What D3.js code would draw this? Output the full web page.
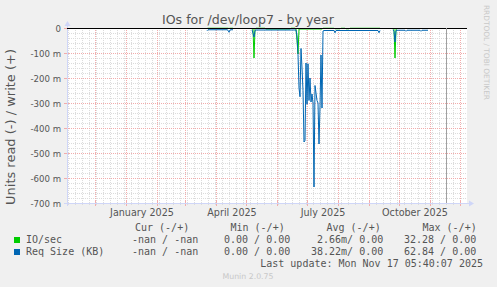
<!DOCTYPE html>
<html><head><meta charset="utf-8">
<script src="https://cdn.jsdelivr.net/npm/d3@7"></script>
<style>body{margin:0;background:#f0f0f0;overflow:hidden} svg{display:block}</style>
</head><body><svg id="c" width="497" height="287"></svg>
<script>
// ---------- data ----------
const chartTitle = "IOs for /dev/loop7 - by year";
const yAxisTitle = "Units read (-) / write (+)";
const yTickValues = [0, -100, -200, -300, -400, -500, -600, -700]; // milli-units
const yTickLabels = ["0", "-100 m", "-200 m", "-300 m", "-400 m", "-500 m", "-600 m", "-700 m"];
const xLabelMonths = ["2025-01-01", "2025-04-01", "2025-07-01", "2025-10-01"];
const xLabelTexts = ["January 2025", "April 2025", "July 2025", "October 2025"];
const xDomain = ["2024-11-03", "2025-12-08"];
const lastUpdateTime = "2025-11-17T05:40:07Z";

const seriesNames = ["IO/sec", "Req Size (KB)"];
const seriesColors = ["#00cc00", "#0066b3"];

// daily read values (milli-units, plotted as negative), one entry per day from the segment start
const segmentStarts = ["2025-03-23", "2025-05-07", "2025-09-25"];
const ioSeg1 = [2,1,1,1,1,1,1,1,1,1,1,1,1,1,1,1,1,1,1,1,1,1,2,1,1,1,1];
const reqSeg1 = [11,7,7,7,7,7,7,7,7,7,7,7,7,7,7,7,7,7,7,7,7,9,17,8,7,7,7];
const ioSeg2 = [
  2,4,120,5,1,1,1,1,1,1,1,1,1,1,4,4,4,4,4,4,4,4,4,4,4,4,4,4,4,4,4,4,4,4,4,4,4,4,4,1,1,1,1,1,4,
  50,104,4,4,4,4,4,4,4,4,4,4,4,4,4,4,4,4,4,4,4,4,4,4,4,4,
  1,1,1,1,1,1,1,1,1,1,1,1,3,3,3,3,3,3,1,1,1,1,1,3,3,3,3,1,1,1,1,1,1,1,1,1,1,1,1,1,1,1,1,1,1,1,1,1,1,1,1,1,1,1,1,1,1,1
];
const reqSeg2 = [
  7,22,36,10,8,8,8,8,8,8,8,8,8,8,8,8,8,8,8,8,8,8,8,8,8,8,8,8,8,8,8,8,8,8,8,8,8,8,8,8,8,8,8,8,8,
  30,105,240,275,82,160,250,456,450,140,305,143,290,200,296,264,300,636,230,260,290,300,464,316,108,320,
  12,10,10,10,10,10,10,10,10,10,10,10,19,10,10,10,10,10,10,10,10,10,10,10,10,10,10,10,10,10,10,10,10,10,10,10,10,10,10,10,10,10,10,10,10,10,10,10,10,10,10,10,10,10,10,10,19,10
];
const ioSeg3 = [2,5,120,5,2,2,2,2,2,2,2,2,2,2,2,2,2,2,2,2,2,2,2,2,2,2,2,2,2,2,2,2,2,2,2,2];
const reqSeg3 = [7,14,56,10,9,9,9,9,9,9,9,9,9,13,9,9,9,9,9,9,9,9,9,9,9,9,9,9,13,9,9,9,9,9,9,9];

const legendHeader = ["Cur (-/+)", "Min (-/+)", "Avg (-/+)", "Max (-/+)"];
const legendIo = ["-nan / -nan", "0.00 / 0.00", "2.66m/ 0.00", "32.28 / 0.00"];
const legendReq = ["-nan / -nan", "0.00 / 0.00", "38.22m/ 0.00", "62.84 / 0.00"];
const lastUpdateText = "Last update: Mon Nov 17 05:40:07 2025";
const footerText = "Munin 2.0.75";
const sideText = "RRDTOOL / TOBI OETIKER";

// ---------- drawing ----------
const W = 497, H = 287;
const L = 67, R = 467, T = 28, B = 203;
const svg = d3.select("#c");
const DAY = 86400000;
const parse = s => new Date(s.length === 10 ? s + "T00:00:00Z" : s);

svg.append("rect").attr("width", W).attr("height", H).attr("fill", "#f0f0f0");
svg.append("rect").attr("x", L).attr("y", T).attr("width", R - L).attr("height", B - T).attr("fill", "#ffffff");

const x = d3.scaleUtc().domain(xDomain.map(parse)).range([L, R]);
const y = d3.scaleLinear().domain([-700, 0]).range([B, T]);

const minorCol = "#dcdcdc", majorCol = "#f2acac", axisCol = "#cfd6f8";
const g = svg.append("g");

// horizontal minor grid
d3.range(-700, 1, 20).filter(v => v % 100 !== 0).forEach(v => {
  const yy = Math.round(y(v)) + 0.5;
  g.append("line").attr("x1", L).attr("x2", R).attr("y1", yy).attr("y2", yy)
    .attr("stroke", minorCol).attr("stroke-dasharray", "1,1");
});
// vertical minor grid (weeks)
d3.utcMonday.range(x.domain()[0], x.domain()[1]).forEach(d => {
  const xx = Math.round(x(d)) + 0.5;
  g.append("line").attr("x1", xx).attr("x2", xx).attr("y1", T).attr("y2", B)
    .attr("stroke", minorCol).attr("stroke-dasharray", "1,1");
  g.append("line").attr("x1", xx).attr("x2", xx).attr("y1", B - 1).attr("y2", B + 2).attr("stroke", minorCol);
});
// horizontal major grid
yTickValues.forEach(v => {
  const yy = Math.round(y(v)) + 0.5;
  g.append("line").attr("x1", L).attr("x2", R).attr("y1", yy).attr("y2", yy)
    .attr("stroke", majorCol).attr("stroke-dasharray", "1,1");
  g.append("line").attr("x1", L - 3).attr("x2", L + 2).attr("y1", yy).attr("y2", yy).attr("stroke", majorCol);
});
// vertical major grid (months)
d3.utcMonth.range(x.domain()[0], x.domain()[1]).forEach(d => {
  const xx = Math.round(x(d)) + 0.5;
  g.append("line").attr("x1", xx).attr("x2", xx).attr("y1", T).attr("y2", B)
    .attr("stroke", majorCol).attr("stroke-dasharray", "1,1");
  g.append("line").attr("x1", xx).attr("x2", xx).attr("y1", B - 2).attr("y2", B + 3).attr("stroke", majorCol);
});

// axes
svg.append("line").attr("x1", L - 3).attr("x2", R + 3).attr("y1", B + 0.5).attr("y2", B + 0.5).attr("stroke", axisCol);
svg.append("path").attr("d", `M${R + 2},${B - 2.5}L${R + 7},${B + 0.5}L${R + 2},${B + 3.5}Z`).attr("fill", axisCol);
svg.append("line").attr("x1", L + 0.5).attr("x2", L + 0.5).attr("y1", B + 3).attr("y2", T - 3).attr("stroke", axisCol);
svg.append("path").attr("d", `M${L - 2.5},${T - 2}L${L + 0.5},${T - 7}L${L + 3.5},${T - 2}Z`).attr("fill", axisCol);

// data
function buildPoints(start, vals) {
  const s = parse(start).getTime();
  return vals.map((v, i) => ({ date: new Date(s + i * DAY), v }));
}
const ioSegs = [ioSeg1, ioSeg2, ioSeg3].map((a, i) => buildPoints(segmentStarts[i], a));
const reqSegs = [reqSeg1, reqSeg2, reqSeg3].map((a, i) => buildPoints(segmentStarts[i], a));
const line = d3.line().x(d => x(d.date)).y(d => y(-d.v));
ioSegs.forEach(p => svg.append("path").attr("d", line(p)).attr("fill", "none").attr("stroke", seriesColors[0]).attr("stroke-width", 1));
reqSegs.forEach(p => svg.append("path").attr("d", line(p)).attr("fill", "none").attr("stroke", seriesColors[1]).attr("stroke-width", 1));

// zero rule
svg.append("line").attr("x1", L).attr("x2", R).attr("y1", y(0) + 0.5).attr("y2", y(0) + 0.5).attr("stroke", "#000");
// last update rule
const lx = Math.round(x(parse(lastUpdateTime))) + 0.5;
svg.append("line").attr("x1", lx).attr("x2", lx).attr("y1", T).attr("y2", B).attr("stroke", "#a0a0a0");

// text helpers
function fit(sel, target) {
  const fs = parseFloat(sel.attr("font-size"));
  const w = sel.node().getComputedTextLength();
  if (w > 0) sel.attr("font-size", (fs * target / w).toFixed(2));
  return sel;
}
const sans = "DejaVu Sans, sans-serif", mono = "DejaVu Sans Mono, monospace";
const txtCol = "#555";

fit(svg.append("text").attr("x", 248).attr("y", 23.5).attr("text-anchor", "middle")
  .attr("font-family", sans).attr("font-size", 12.5).attr("fill", txtCol).text(chartTitle), 172);

const yt = svg.append("text").attr("transform", "translate(14.5,127) rotate(-90)").attr("text-anchor", "middle")
  .attr("font-family", sans).attr("font-size", 12).attr("fill", txtCol).text(yAxisTitle);
fit(yt, 156);

yTickValues.forEach((v, i) => {
  svg.append("text").attr("x", 61).attr("y", y(v) + 3.5).attr("text-anchor", "end")
    .attr("font-family", sans).attr("font-size", 8.6).attr("fill", txtCol).text(yTickLabels[i]);
});
xLabelMonths.forEach((m, i) => {
  const d = new Date(parse(m).getTime() + 16 * DAY);
  svg.append("text").attr("x", x(d)).attr("y", 216).attr("text-anchor", "middle")
    .attr("font-family", sans).attr("font-size", 9.6).attr("fill", txtCol).text(xLabelTexts[i]);
});

// side text
fit(svg.append("text").attr("transform", "translate(484,5) rotate(90)")
  .attr("font-family", sans).attr("font-size", 6.5).attr("fill", "#c8c8c8").text(sideText), 95);

// legend
const colXHead = [135, 230.5, 326.5, 422.5];
const colXReq = [132, 224, 311, 404];
const colXIo = [132, 224, 317, 404];
legendHeader.forEach((t, i) => {
  svg.append("text").attr("x", colXHead[i]).attr("y", 230.5)
    .attr("font-family", mono).attr("font-size", 10).attr("fill", txtCol).style("white-space", "pre").text(t);
});
[[legendIo, colXIo, 243], [legendReq, colXReq, 255]].forEach(([vals, xs, yy], r) => {
  svg.append("rect").attr("x", 14).attr("y", yy - 6).attr("width", 6).attr("height", 6).attr("fill", seriesColors[r]);
  svg.append("text").attr("x", 26).attr("y", yy).attr("font-family", mono).attr("font-size", 10)
    .attr("fill", txtCol).text(seriesNames[r]);
  vals.forEach((t, i) => {
    svg.append("text").attr("x", xs[i]).attr("y", yy).attr("font-family", mono).attr("font-size", 10)
      .attr("fill", txtCol).style("white-space", "pre").text(t);
  });
});
svg.append("text").attr("x", 483).attr("y", 267).attr("text-anchor", "end").attr("font-family", mono)
  .attr("font-size", 10).attr("fill", txtCol).text(lastUpdateText);
fit(svg.append("text").attr("x", 248).attr("y", 278.5).attr("text-anchor", "middle").attr("font-family", sans)
  .attr("font-size", 7).attr("fill", "#c8c8c8").text(footerText), 51);
</script>
</body></html>
